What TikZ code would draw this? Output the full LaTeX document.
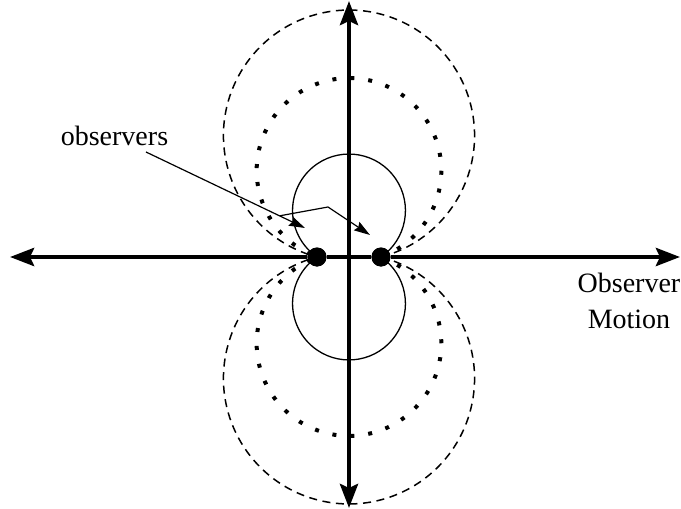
\documentclass[tikz,border=0pt]{standalone}
\usepackage{fontspec}
\setmainfont{Liberation Serif}
\usetikzlibrary{arrows.meta,calc}

\begin{document}
\begin{tikzpicture}[x=0.5pt,y=0.5pt,
  every node/.style={font=\fontsize{14}{18}\selectfont},
  axis/.style={line width=2.2pt,-{Stealth[length=12pt,width=9pt,inset=2pt]}},
  solidlobe/.style={line width=0.65pt},
  dashlobe/.style={line width=0.75pt,dash pattern=on 4pt off 2.8pt},
  dotlobe/.style={line width=2pt,dash pattern=on 2pt off 7pt},
  obs/.style={circle,fill,inner sep=0pt,minimum size=9.5pt},
  ptr/.style={line width=0.6pt,-{Stealth[length=8pt,width=5pt,inset=1pt]}}]
\useasboundingbox (-349,-252) rectangle (332,257);
% observers on the motion axis
\node[obs] (obsL) at (-32,0) {};
\node[obs] (obsR) at (32,0) {};
% lobes: circle arcs through both observers
\foreach \h/\sty in {46.5/solidlobe,86.6/dotlobe,121.4/dashlobe} {
  \pgfmathsetmacro\a{atan(\h/32)}
  \pgfmathsetmacro\r{sqrt(32*32+\h*\h)}
  \draw[\sty] (obsR.center) arc[start angle=-\a,end angle=180+\a,radius=\r];
  \draw[\sty] (obsR.center) arc[start angle=\a,end angle=-180-\a,radius=\r];
}
% axes
\coordinate (west) at (-339,0);
\coordinate (east) at (331,0);
\coordinate (north) at (0,256);
\coordinate (south) at (0,-251);
\draw[axis] (obsL) -- (west);
\draw[axis] (obsR) -- (east);
\draw[line width=2.2pt] (obsL) -- (obsR);
\draw[axis] (0,0) -- (north);
\draw[axis] (0,0) -- (south);
\node[obs] at (obsL) {};
\node[obs] at (obsR) {};
% labels
\node[anchor=base] (lbl) at (-234.5,112) {observers};
\node[anchor=north,align=center,inner sep=0pt] (motion) at (280,-16) {Observer\\Motion};
\coordinate (start) at (-203,105);
\coordinate (tipL) at (-44,29);
\coordinate (branch) at ($(start)!0.84!(tipL)$);
\coordinate (bend) at (-21,50);
\coordinate (tipR) at (21,22);
\draw[ptr] (start) -- (tipL);
\draw[ptr] (branch) -- (bend) -- (tipR);
\end{tikzpicture}
\end{document}
